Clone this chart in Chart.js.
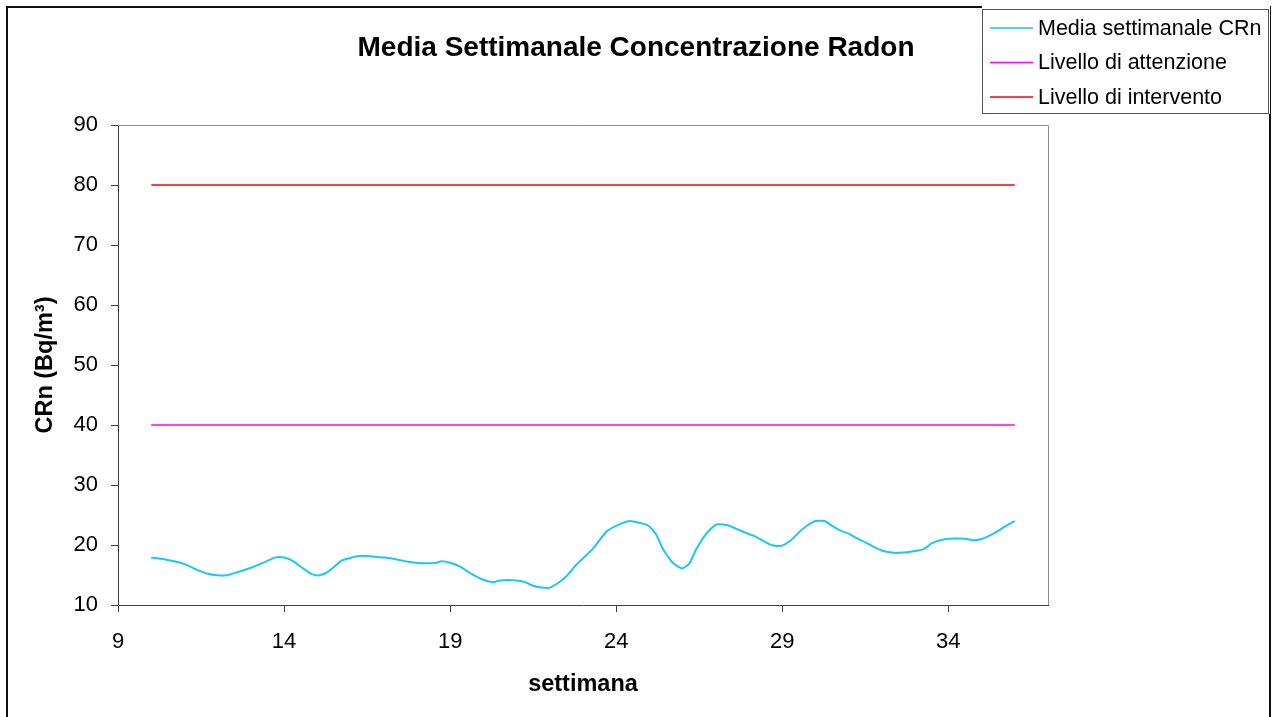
<!DOCTYPE html>
<html>
<head>
<meta charset="utf-8">
<title>Media Settimanale Concentrazione Radon</title>
<script src="https://cdn.jsdelivr.net/npm/chart.js@4.4.1/dist/chart.umd.min.js"></script>
<style>
  html, body { margin: 0; padding: 0; background: #fff; }
</style>
</head>
<body>
<canvas id="radon-chart" width="1272" height="717"></canvas>
<script>
// Weekly radon concentration readings (week number, Bq/m3)
const weeks = [
  10.0, 10.45, 10.96, 11.4, 11.7, 12.0, 12.26, 12.56, 13.0, 13.4, 13.72, 14.0,
  14.27, 14.57, 14.82, 15.07, 15.33, 15.73, 16.03, 16.33, 16.63, 17.03, 17.43,
  17.73, 18.04, 18.54, 18.75, 19.0, 19.3, 19.6, 20.0, 20.3, 20.5, 21.0, 21.26,
  21.5, 21.76, 22.0, 22.26, 22.5, 22.8, 23.3, 23.7, 24.0, 24.4, 24.7, 24.97,
  25.2, 25.4, 25.7, 25.98, 26.2, 26.4, 26.7, 27.0, 27.2, 27.4, 27.7, 28.0,
  28.2, 28.5, 28.74, 28.99, 29.24, 29.5, 29.74, 30.0, 30.27, 30.5, 30.75, 31.0,
  31.25, 31.5, 31.75, 32.05, 32.35, 32.55, 32.9, 33.26, 33.5, 33.76, 34.0,
  34.5, 34.76, 35.0, 35.36, 35.7, 36.0
];
const crn = [
  17.9, 17.55, 16.9, 15.8, 15.2, 14.95, 14.95, 15.4, 16.2, 17.1, 17.9, 17.9,
  17.3, 16.1, 15.2, 14.95, 15.55, 17.4, 17.9, 18.2, 18.1, 17.9, 17.55,
  17.2, 17.0, 17.0, 17.3, 17.05, 16.4, 15.3, 14.2, 13.8, 14.1, 14.1, 13.8,
  13.2, 12.9, 12.9, 13.7, 14.8, 16.7, 19.4, 22.2, 23.2, 24.0, 23.7, 23.2,
  21.8, 19.4, 17.05, 16.1, 16.9, 19.2, 21.8, 23.4, 23.4, 23.2, 22.5, 21.8,
  21.4, 20.45, 19.9, 19.9, 20.7, 22.1, 23.2, 24.0, 24.0, 23.2, 22.4, 21.9,
  21.1, 20.45, 19.7, 19.0, 18.7, 18.7, 18.9, 19.3, 20.3, 20.8, 21.05,
  21.05, 20.8, 21.0, 21.9, 23.05, 24.0
];

// Reference levels
const levelWeeks = [10, 36];
const attention = [40, 40];
const intervention = [80, 80];

// Axis ticks
const xTicks = [9, 14, 19, 24, 29, 34];
const xMin = 9;
const xMax = 37;
const yMin = 10;
const yMax = 90;

function toPoints(xs, ys) {
  return xs.map((x, i) => ({ x: x, y: ys[i] }));
}

Chart.defaults.font.family = "'Liberation Sans', Arial, sans-serif";
Chart.defaults.color = "#000";

// White background and the outer frame of the picture
const frame = {
  id: "frame",
  beforeDraw(chart) {
    const ctx = chart.ctx;
    ctx.save();
    ctx.fillStyle = "#fff";
    ctx.fillRect(0, 0, chart.width, chart.height);
    ctx.strokeStyle = "#111";
    ctx.lineWidth = 2;
    ctx.strokeRect(7, 7, chart.width - 9, chart.height + 20);
    ctx.restore();
  },
  beforeDatasetsDraw(chart) {
    // top and right edges of the plot area
    const { ctx, chartArea } = chart;
    ctx.save();
    ctx.strokeStyle = "#8c8c8c";
    ctx.lineWidth = 1;
    ctx.beginPath();
    ctx.moveTo(chartArea.left, chartArea.top + 0.5);
    ctx.lineTo(chartArea.right + 0.5, chartArea.top + 0.5);
    ctx.lineTo(chartArea.right + 0.5, chartArea.bottom);
    ctx.stroke();
    ctx.restore();
  },
};

// Boxed legend in the top right corner
const legendBox = {
  id: "legendBox",
  afterDraw(chart) {
    const ctx = chart.ctx;
    ctx.save();
    ctx.fillStyle = "#fff";
    ctx.fillRect(982, 0, 288, 114);
    ctx.strokeStyle = "#555";
    ctx.lineWidth = 1;
    ctx.strokeRect(982.5, 9.5, 286, 104);
    ctx.font = "21.5px 'Liberation Sans', Arial, sans-serif";
    ctx.textBaseline = "middle";
    chart.data.datasets.forEach((ds, i) => {
      const y = 28 + i * 34.5;
      ctx.strokeStyle = ds.borderColor;
      ctx.lineWidth = 1.5;
      ctx.beginPath();
      ctx.moveTo(990, y);
      ctx.lineTo(1033, y);
      ctx.stroke();
      ctx.fillStyle = "#000";
      ctx.fillText(ds.label, 1038, y + 1);
    });
    ctx.restore();
  },
};

const ctx = document.getElementById("radon-chart");

new Chart(ctx, {
  type: "line",
  data: {
    datasets: [
      {
        label: "Media settimanale CRn",
        data: toPoints(weeks, crn),
        borderColor: "#19c8f5",
        borderWidth: 2,
        pointRadius: 0,
        tension: 0.2,
      },
      {
        label: "Livello di attenzione",
        data: toPoints(levelWeeks, attention),
        borderColor: "#ff00ff",
        borderWidth: 1.5,
        pointRadius: 0,
      },
      {
        label: "Livello di intervento",
        data: toPoints(levelWeeks, intervention),
        borderColor: "#ff0000",
        borderWidth: 1.5,
        pointRadius: 0,
      },
    ],
  },
  options: {
    responsive: false,
    animation: false,
    layout: { padding: 0 },
    plugins: {
      legend: { display: false },
      tooltip: { enabled: false },
      title: {
        display: true,
        text: "Media Settimanale Concentrazione Radon",
        font: { size: 28, weight: "bold" },
        color: "#000",
        padding: { top: 31, bottom: 60.4 },
      },
    },
    scales: {
      x: {
        type: "linear",
        min: xMin,
        max: xMax,
        afterBuildTicks: function (scale) {
          scale.ticks = xTicks.map((v) => ({ value: v }));
        },
        afterFit: function (scale) {
          scale.height = 112;
        },
        grid: {
          drawOnChartArea: false,
          tickLength: 7,
          color: "#404040",
        },
        border: { color: "#404040", width: 1 },
        ticks: {
          font: { size: 22 },
          padding: 17,
          maxRotation: 0,
          autoSkip: false,
        },
        title: {
          display: true,
          text: "settimana",
          font: { size: 23.5, weight: "bold" },
          padding: { top: 0, bottom: 18 },
        },
      },
      y: {
        min: yMin,
        max: yMax,
        afterFit: function (scale) {
          scale.width = 118;
        },
        grid: {
          drawOnChartArea: false,
          tickLength: 7,
          color: "#404040",
        },
        border: { color: "#404040", width: 1 },
        ticks: {
          stepSize: 10,
          font: { size: 22 },
          padding: 13,
        },
        title: {
          display: true,
          text: "CRn (Bq/m³)",
          font: { size: 23.5, weight: "bold" },
          padding: { top: 31, bottom: 0 },
        },
      },
      spacer: {
        position: "right",
        display: true,
        grid: { display: false },
        border: { display: false },
        ticks: { display: false },
        afterFit: function (scale) {
          scale.width = 224;
        },
      },
    },
  },
  plugins: [frame, legendBox],
});
</script>
</body>
</html>
